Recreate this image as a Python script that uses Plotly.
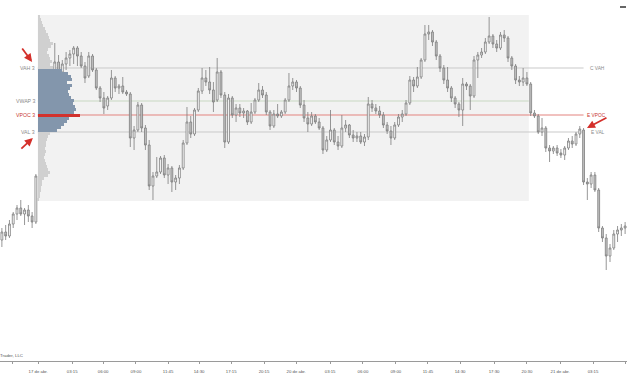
import plotly.graph_objects as go

# ---------------- data ----------------
bar_index = list(range(166))

opens = [2770, 2774, 2772, 2778, 2783, 2786, 2783, 2785, 2782, 2779,
         2802, 2814, 2826, 2836, 2845, 2859, 2854, 2858, 2861, 2863,
         2866, 2862, 2857, 2852, 2862, 2855, 2846, 2841, 2837, 2841,
         2851, 2846, 2847, 2844, 2843, 2821, 2825, 2837.5, 2826, 2817.5,
         2797, 2802, 2804, 2811, 2802.5, 2806, 2799, 2801, 2806, 2818.5,
         2829, 2823, 2835, 2844.5, 2851, 2849, 2845, 2840, 2854, 2842.5,
         2819, 2841, 2832.5, 2836, 2833.5, 2834.5, 2829, 2834, 2840, 2845,
         2842.5, 2834, 2827, 2833, 2832, 2834, 2840, 2847, 2849, 2846,
         2837.5, 2831, 2828, 2832, 2829, 2826, 2815, 2820, 2825, 2819,
         2817, 2826, 2827.5, 2822.5, 2821, 2822, 2819, 2821.5, 2838, 2836,
         2834.5, 2832.5, 2827.5, 2824.5, 2821, 2827.5, 2831.5, 2833, 2838.5, 2850,
         2847, 2851.5, 2860, 2873, 2874, 2869, 2862, 2856, 2850, 2846,
         2841, 2838, 2835, 2848, 2847, 2842, 2860, 2862.5, 2864, 2869,
         2872, 2868, 2866, 2872.5, 2871, 2861, 2857, 2850, 2849, 2851,
         2848, 2833.5, 2832, 2824, 2826, 2816, 2814.5, 2816, 2813.5, 2812.5,
         2816, 2819.5, 2818, 2823, 2825, 2799, 2798, 2802.5, 2795, 2776,
         2771, 2762, 2766, 2773, 2775, 2776]

highs = [2776, 2777.5, 2780, 2784, 2787.5, 2790, 2786, 2787.5, 2784, 2803,
         2815, 2827.5, 2837.5, 2847.5, 2868.5, 2862.5, 2860, 2864, 2865, 2867,
         2867, 2864, 2859, 2864, 2863, 2856, 2847, 2844, 2842, 2855,
         2852, 2848, 2851.5, 2845, 2844, 2827, 2839, 2838.5, 2827.5, 2820,
         2804, 2811.5, 2812, 2812.5, 2808, 2807, 2802.5, 2807.5, 2820, 2836.5,
         2832, 2836, 2846, 2856, 2855, 2856.5, 2849, 2861, 2855, 2844,
         2843, 2842, 2838, 2838, 2836, 2835, 2838.5, 2841, 2848.5, 2847,
         2844, 2835, 2835, 2838, 2835, 2841, 2853.5, 2851, 2850, 2847,
         2840, 2834, 2834, 2833, 2831, 2827, 2822, 2835, 2826, 2822,
         2832.5, 2830, 2828, 2825, 2824, 2824, 2823, 2841.5, 2840, 2838,
         2837, 2834, 2829, 2827, 2829, 2833, 2835, 2840, 2852, 2851.5,
         2856.5, 2861, 2877.5, 2877.5, 2875, 2870, 2863, 2857.5, 2856.5, 2847,
         2842, 2839, 2851, 2849, 2848, 2862, 2864, 2866, 2871, 2881.5,
         2873, 2870, 2874, 2875, 2872, 2862, 2858, 2852, 2856, 2854,
         2849, 2835, 2833, 2831, 2827, 2817.5, 2817, 2817.5, 2815.5, 2817,
         2821, 2822, 2824, 2827, 2826, 2801, 2804, 2804, 2796, 2777,
         2773, 2768, 2775, 2777, 2778, 2779]

lows = [2766.5, 2770, 2771, 2776, 2780, 2782, 2777.5, 2779, 2776, 2778,
        2800, 2812, 2824, 2834, 2842.5, 2850, 2851, 2855, 2857, 2858,
        2857, 2856, 2848.5, 2851, 2854, 2845, 2839, 2833, 2835, 2840,
        2844, 2843, 2843, 2842, 2816.5, 2815, 2824, 2824, 2815, 2795,
        2790, 2801, 2803, 2801, 2798, 2794, 2795, 2798, 2805, 2817.5,
        2821, 2822, 2834, 2843, 2847, 2843, 2834, 2839, 2841, 2816,
        2818, 2831, 2829, 2831.5, 2831, 2827.5, 2828, 2833, 2839, 2841,
        2832.5, 2825, 2826, 2831, 2831, 2833, 2839, 2845, 2844, 2836,
        2829, 2824, 2827, 2828, 2825, 2813, 2814, 2819, 2817.5, 2815,
        2816, 2824, 2821, 2819, 2819, 2818, 2817, 2820, 2834, 2833,
        2831, 2826, 2823, 2817.5, 2820, 2826.5, 2829, 2832, 2837.5, 2844,
        2846, 2850.5, 2859, 2870, 2867, 2860, 2854, 2848, 2844, 2839,
        2836, 2831.5, 2827, 2845, 2835, 2841, 2851, 2861, 2863, 2868,
        2866, 2864, 2865, 2869, 2859, 2855, 2848, 2847, 2847, 2847,
        2832, 2831, 2823, 2822, 2814, 2809, 2813, 2812, 2811, 2810,
        2815, 2816, 2817, 2821, 2797.5, 2790, 2796, 2794, 2774, 2769,
        2755, 2759, 2765, 2769, 2772, 2773]

closes = [2774, 2772, 2778, 2783, 2786, 2783, 2785, 2782, 2779, 2802,
          2814, 2826, 2836, 2845, 2859, 2854, 2858, 2861, 2863, 2866,
          2862, 2857, 2851, 2862, 2855, 2846, 2841, 2836, 2841, 2851,
          2846, 2847, 2844, 2843, 2821, 2825, 2837.5, 2826, 2817.5, 2797,
          2802, 2804, 2811, 2802.5, 2806, 2799, 2801, 2806, 2818.5, 2829,
          2823, 2835, 2844.5, 2851, 2849, 2845, 2839, 2854, 2842.5, 2819,
          2841, 2832.5, 2836, 2833.5, 2834.5, 2829, 2834, 2840, 2845, 2842.5,
          2834, 2827, 2833, 2832, 2834, 2840, 2847, 2849, 2846, 2837.5,
          2831, 2828, 2832, 2829, 2826, 2815, 2820, 2825, 2819, 2817,
          2826, 2827.5, 2822.5, 2821, 2822, 2819, 2821.5, 2838, 2836, 2834.5,
          2832.5, 2827.5, 2824.5, 2821, 2827.5, 2831.5, 2833, 2838.5, 2850, 2847,
          2851.5, 2860, 2873, 2874, 2869, 2862, 2856, 2850, 2846, 2841,
          2838, 2835, 2848, 2847, 2842, 2860, 2862.5, 2864, 2869, 2872,
          2868, 2866, 2872.5, 2871, 2861, 2857, 2850, 2849, 2851, 2848,
          2833.5, 2832, 2824, 2826, 2816, 2814.5, 2816, 2813.5, 2812.5, 2816,
          2819.5, 2818, 2823, 2825.5, 2799, 2798, 2802.5, 2795, 2776, 2771,
          2762, 2766, 2773, 2775, 2776, 2777]

# volume profile (price level, volume in thousands)
profile_price = [2882, 2880.5, 2879, 2877.5, 2876, 2874.5, 2873, 2871.5, 2870, 2868.5,
                 2867, 2865.5, 2864, 2862.5, 2861, 2859.5, 2858, 2856.5, 2855, 2853.5,
                 2852, 2850.5, 2849, 2847.5, 2846, 2844.5, 2843, 2841.5, 2840, 2838.5,
                 2837, 2835.5, 2834, 2832.5, 2831, 2829.5, 2828, 2826.5, 2825, 2823.5,
                 2822, 2820.5, 2819, 2817.5, 2816, 2814.5, 2813, 2811.5, 2810, 2808.5,
                 2807, 2805.5, 2804, 2802.5, 2801, 2799.5, 2798, 2796.5, 2795, 2793.5,
                 2792, 2790.5]
profile_volume = [2, 3, 4, 5, 7, 8, 10, 11, 12, 15,
                  13, 10, 9, 11, 12, 14, 12, 15, 24, 30,
                  33, 34, 29, 34, 32, 30, 31, 33, 36, 35,
                  37, 38, 36, 42, 31, 29, 26, 23, 19, 12,
                  10, 9, 8, 8, 7, 8, 7, 6, 7, 8,
                  9, 10, 12, 10, 6, 4, 4, 3, 3, 2,
                  2, 1]

VAH, VWAP, VPOC, VAL = 2856, 2839.5, 2832.5, 2824
profile_high, profile_low = 2882.5, 2789.5
profile_start_bar, profile_end_bar = 10, 139

tick_pos = [2.7, 9.6, 18.6, 26.8, 35.5, 44.0, 52.2, 60.7, 69.4, 77.9, 86.9,
            95.6, 104.3, 112.8, 121.3, 130.3, 139.0, 147.8, 156.5, 165.2]
tick_text = ["", "17 de abr.", "03:15", "06:00", "09:00", "11:45", "14:30",
             "17:15", "20:15", "20 de abr.", "03:15", "06:00", "09:00", "11:45",
             "14:30", "17:30", "20:30", "21 de abr.", "03:15", "06:00"]

# ---------------- figure ----------------
W, H = 627, 376
FONT = "Liberation Sans, Arial, sans-serif"
n = len(bar_index)
x_lo, x_hi = -0.5, n - 0.5
box_x0 = profile_start_bar - 0.5
box_x1 = profile_end_bar + 0.5
line_end = 154

fig = go.Figure()

fig.add_trace(go.Candlestick(
    x=bar_index, open=opens, high=highs, low=lows, close=closes,
    increasing=dict(line=dict(color="#7c7c7c", width=0.8), fillcolor="#ffffff"),
    decreasing=dict(line=dict(color="#7c7c7c", width=0.8), fillcolor="#c4c4c4"),
    whiskerwidth=0, showlegend=False, hoverinfo="skip",
))

prof_colors = []
for p in profile_price:
    if p == VPOC:
        prof_colors.append("#d2322d")
    elif VAL <= p <= VAH:
        prof_colors.append("#8396ac")
    else:
        prof_colors.append("#d0d0d0")

fig.add_trace(go.Bar(
    y=profile_price, x=profile_volume, orientation="h", width=1.5,
    marker=dict(color=prof_colors, line=dict(width=0)),
    xaxis="x2", yaxis="y", showlegend=False, hoverinfo="skip",
))

# profile axis: 1 volume unit per pixel, zero at the profile start
frac = (box_x0 - x_lo) / (x_hi - x_lo)
x2_range = [-frac * W, (1 - frac) * W]

shapes = [
    dict(type="rect", xref="x", yref="y", x0=box_x0, x1=box_x1,
         y0=profile_low, y1=profile_high, fillcolor="#f2f2f2",
         line=dict(width=0), layer="below"),
    dict(type="line", xref="x", yref="y", x0=box_x0, x1=line_end, y0=VAH, y1=VAH,
         line=dict(color="#c9c9c9", width=1), layer="below"),
    dict(type="line", xref="x", yref="y", x0=box_x0, x1=box_x1, y0=VWAP, y1=VWAP,
         line=dict(color="#c8d8c2", width=1), layer="below"),
    dict(type="line", xref="x", yref="y", x0=box_x0, x1=line_end, y0=VPOC, y1=VPOC,
         line=dict(color="#e3837f", width=1), layer="below"),
    dict(type="line", xref="x", yref="y", x0=box_x0, x1=line_end, y0=VAL, y1=VAL,
         line=dict(color="#c9c9c9", width=1), layer="below"),
    dict(type="line", xref="paper", yref="paper", x0=620 / W, x1=626 / W,
         y0=1 - 7 / 361, y1=1 - 7 / 361, line=dict(color="#333333", width=1.5)),
]

ann = []
left_labels = [("VAH 3", VAH, "#8a8a8a"), ("VWAP 3", VWAP, "#8a8a8a"),
               ("VPOC 3", VPOC, "#c8372f"), ("VAL 3", VAL, "#8a8a8a")]
for txt, yv, col in left_labels:
    ann.append(dict(x=box_x0, y=yv, xref="x", yref="y", text=txt, showarrow=False,
                    xanchor="right", yanchor="middle", xshift=-1,
                    font=dict(family=FONT, size=5.2, color=col)))
right_labels = [("C VAH", VAH, "#8a8a8a", 4), ("E VPOC", VPOC, "#c8372f", 1),
                ("E VAL", VAL, "#8a8a8a", 5)]
for txt, yv, col, sh in right_labels:
    ann.append(dict(x=line_end, y=yv, xref="x", yref="y", text=txt, showarrow=False,
                    xanchor="left", yanchor="middle", xshift=sh,
                    font=dict(family=FONT, size=4.8, color=col)))

arrows = [(8.0, 2859, -11, -15), (8.2, 2821, -13, 12), (154.9, 2826, 21, -11)]
for xa, ya, axp, ayp in arrows:
    ann.append(dict(x=xa, y=ya, xref="x", yref="y", ax=axp, ay=ayp, text="",
                    showarrow=True, arrowhead=2, arrowsize=0.9, arrowwidth=1.8,
                    arrowcolor="#d4302b"))

ann.append(dict(x=0, y=1 - 355 / 361, xref="paper", yref="paper",
                text="Trader, LLC", showarrow=False, xanchor="left",
                yanchor="middle", xshift=-2,
                font=dict(family=FONT, size=4.4, color="#555555")))

fig.update_layout(
    width=W, height=H,
    margin=dict(l=0, r=0, t=0, b=15, pad=0),
    paper_bgcolor="#ffffff", plot_bgcolor="#ffffff",
    showlegend=False, bargap=0,
    shapes=shapes, annotations=ann,
    xaxis=dict(range=[x_lo, x_hi], rangeslider=dict(visible=False),
               showgrid=False, zeroline=False, showline=True,
               linecolor="#9a9a9a", linewidth=1,
               ticks="outside", ticklen=2, tickcolor="#9a9a9a", tickwidth=1,
               tickmode="array", tickvals=tick_pos, ticktext=tick_text,
               ticklabelstandoff=4,
               tickfont=dict(family=FONT, size=4.3, color="#555555"),
               fixedrange=True),
    xaxis2=dict(range=x2_range, overlaying="x", visible=False, fixedrange=True),
    yaxis=dict(range=[2709.5, 2890], visible=False, showgrid=False,
               zeroline=False, fixedrange=True),
)

fig.write_html("out.html", config={"displayModeBar": False})
